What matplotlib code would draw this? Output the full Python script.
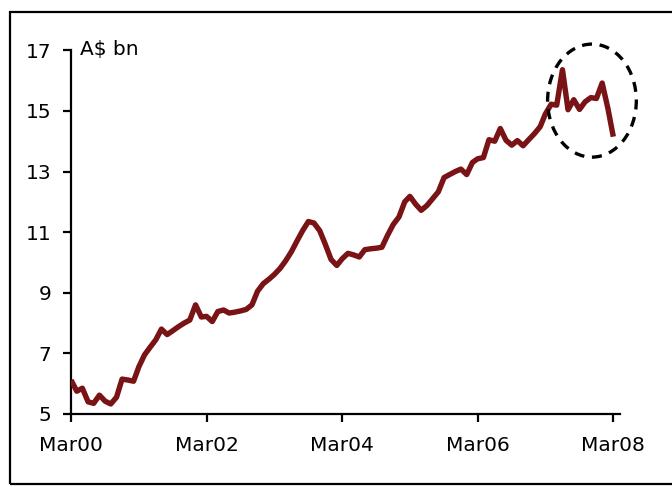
import numpy as np
import pandas as pd
import matplotlib
matplotlib.use("Agg")
import matplotlib.pyplot as plt
import matplotlib.dates as mdates
from matplotlib.patches import Ellipse, Rectangle

# monthly series, Mar 2000 - Mar 2008, A$ bn
start = "2000-03-01"
values = [
    6.12, 5.75, 5.85, 5.40, 5.35, 5.62, 5.42, 5.33, 5.55, 6.15,
    6.12, 6.08, 6.55, 6.95, 7.20, 7.45, 7.80, 7.62, 7.75, 7.88,
    8.00, 8.10, 8.60, 8.20, 8.22, 8.05, 8.38, 8.43, 8.33, 8.36,
    8.40, 8.45, 8.60, 9.05, 9.30, 9.45, 9.60, 9.80, 10.05, 10.35,
    10.70, 11.05, 11.35, 11.30, 11.05, 10.60, 10.10, 9.90, 10.12, 10.30,
    10.25, 10.18, 10.42, 10.45, 10.47, 10.50, 10.90, 11.25, 11.50, 12.00,
    12.18, 11.92, 11.72, 11.88, 12.10, 12.33, 12.80, 12.90, 13.00, 13.08,
    12.90, 13.30, 13.42, 13.46, 14.05, 14.00, 14.42, 14.03, 13.87, 14.02,
    13.85, 14.05, 14.25, 14.48, 14.90, 15.22, 15.19, 16.36, 15.04, 15.37,
    15.05, 15.30, 15.44, 15.41, 15.92, 15.08, 14.15,
]
dates = pd.date_range(start, periods=len(values), freq="MS")

tick_dates = pd.to_datetime(["2000-03-01", "2002-03-01", "2004-03-01",
                             "2006-03-01", "2008-03-01"])
tick_labels = ["Mar00", "Mar02", "Mar04", "Mar06", "Mar08"]
y_ticks = [5, 7, 9, 11, 13, 15, 17]

# highlighted recent period
ring_centre = (pd.Timestamp("2007-11-07"), 15.34)
ring_size = (478, 3.73)  # days, A$ bn

line_col = "#7a1315"

plt.rcParams["font.family"] = "DejaVu Sans"
fig = plt.figure(figsize=(6.72, 4.87), dpi=100)
ax = fig.add_axes([0.1057, 0.150, 0.8169, 0.7467])

ax.plot(dates, values, color=line_col, lw=3.9, solid_joinstyle="round",
        solid_capstyle="butt", zorder=3)

cx = mdates.date2num(ring_centre[0])
ax.add_patch(Ellipse((cx, ring_centre[1]), ring_size[0], ring_size[1],
                     fill=False, ec="black", lw=2.4, ls=(0, (3.0, 2.3)),
                     clip_on=False, zorder=4))

ax.set_ylim(5, 17)
ax.set_xlim(mdates.date2num(dates[0]), mdates.date2num(pd.Timestamp("2008-04-06")))
ax.set_yticks(y_ticks)
ax.set_xticks(mdates.date2num(tick_dates))
ax.set_xticklabels(tick_labels)

for side in ("top", "right"):
    ax.spines[side].set_visible(False)
for side in ("left", "bottom"):
    ax.spines[side].set_linewidth(1.6)

ax.tick_params(axis="y", direction="out", length=6, width=1.6, pad=8, labelsize=14.5)
ax.tick_params(axis="x", direction="out", length=6, width=1.6, pad=10, labelsize=14.5)

ax.text(0.016, 1.028, "A$ bn", transform=ax.transAxes, ha="left", va="top", fontsize=14.5)

# outer frame
fig.patches.append(Rectangle((10 / 672, 3 / 487), 1.1, 472 / 487,
                             transform=fig.transFigure, fill=False,
                             ec="black", lw=1.6, clip_on=False))

fig.savefig("out.png", dpi=100)
